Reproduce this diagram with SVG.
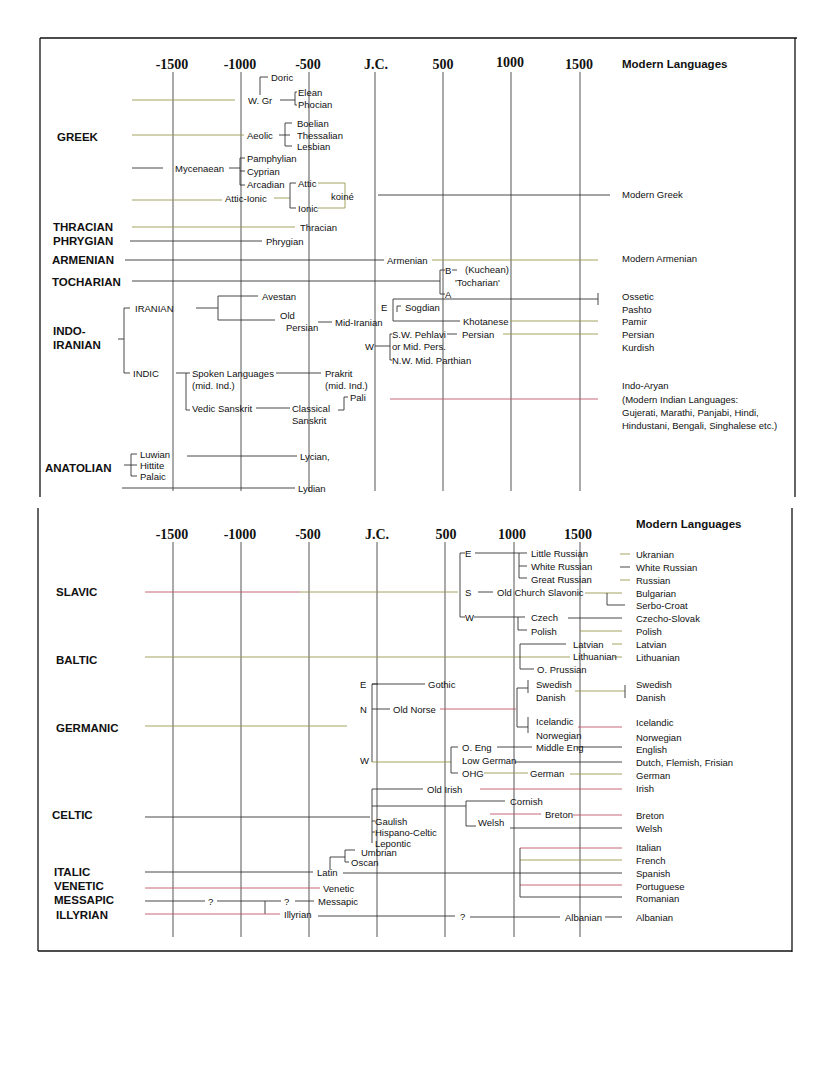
<svg xmlns="http://www.w3.org/2000/svg" width="835" height="1075" viewBox="0 0 835 1075">
<style>
text{font-family:"Liberation Sans",Arial,sans-serif;font-size:9.5px;fill:#111;dominant-baseline:central}
.g{font-weight:bold;font-size:11.5px}
.ax{font-family:"Liberation Serif","Times New Roman",serif;font-weight:bold;font-size:14px;text-anchor:middle}
.ml{font-weight:bold;font-size:11.5px}
.grid line{stroke:#555;stroke-width:1}
.frame line{stroke:#111;stroke-width:1.3}
.c path{fill:none;stroke:#333;stroke-width:0.9}
.c .o{stroke:#9a9a50}
.c .p{stroke:#c05868}
</style>
<rect width="835" height="1075" fill="#fff"/>
<g class="frame">
<line x1="40" y1="38" x2="797" y2="38"/><line x1="40" y1="38" x2="40" y2="497"/><line x1="795" y1="38" x2="795" y2="497"/>
<line x1="38" y1="508" x2="38" y2="951"/><line x1="792" y1="508" x2="792" y2="952"/><line x1="38" y1="951" x2="792" y2="951"/>
</g>
<g class="grid" id="axis-top">
<line x1="173" y1="72" x2="173" y2="491"/><line x1="241" y1="72" x2="241" y2="491"/><line x1="309" y1="72" x2="309" y2="491"/><line x1="375" y1="72" x2="375" y2="491"/><line x1="443" y1="72" x2="443" y2="491"/><line x1="511" y1="72" x2="511" y2="491"/><line x1="580" y1="72" x2="580" y2="491"/>
<text class="ax" x="172" y="64">-1500</text><text class="ax" x="240" y="64">-1000</text><text class="ax" x="308" y="64">-500</text><text class="ax" x="376" y="64">J.C.</text><text class="ax" x="443" y="64">500</text><text class="ax" x="510" y="62">1000</text><text class="ax" x="579" y="64">1500</text>
<text class="ml" x="622" y="64">Modern Languages</text>
</g>
<g class="grid" id="axis-bottom">
<line x1="173" y1="542" x2="173" y2="937"/><line x1="241" y1="542" x2="241" y2="937"/><line x1="309" y1="542" x2="309" y2="937"/><line x1="377" y1="542" x2="377" y2="937"/><line x1="445" y1="542" x2="445" y2="937"/><line x1="514" y1="542" x2="514" y2="937"/><line x1="580" y1="542" x2="580" y2="937"/>
<text class="ax" x="172" y="534">-1500</text><text class="ax" x="240" y="534">-1000</text><text class="ax" x="308" y="534">-500</text><text class="ax" x="377" y="534">J.C.</text><text class="ax" x="446" y="534">500</text><text class="ax" x="512" y="534">1000</text><text class="ax" x="578" y="534">1500</text>
<text class="ml" x="636" y="524">Modern Languages</text>
</g>
<g class="c" id="connectors">
<path class="o" d="M132,100H235"/><path d="M260,95V77H268"/><path d="M280,100H295M297,92H295V105H297"/>
<path class="o" d="M132,135H244"/><path d="M279,135H290M292,123H285V146H292"/>
<path d="M132,168H163M229,168H240M245,158H240V185H245M240,171H245"/>
<path class="o" d="M132,200H222"/><path class="o" d="M274,198H290"/><path d="M296,183H290V208H296"/>
<path class="o" d="M318,183H345V208H318"/><path d="M378,195H610"/>
<path class="o" d="M132,227H295"/><path d="M130,241H262"/>
<path d="M125,260H384"/><path class="o" d="M432,260H598"/>
<path d="M132,281H440M445,270H440V294H445M452,270H457"/>
<path d="M393,321V299H598M598,293V305M397,312V306H401"/>
<path d="M393,321H460"/><path class="o" d="M510,321H598"/>
<path d="M318,322H332"/><path d="M375,346H390M392,334H390V360H392"/>
<path d="M447,334H457"/><path class="o" d="M503,334H598"/>
<path d="M130,308H124V373H130M118,339H124"/>
<path d="M196,308H218M258,296H218V320H275"/>
<path d="M176,373H186M190,373H186V410H190"/><path d="M276,373H321"/><path d="M256,408H290"/>
<path d="M348,397H344V410H338"/><path class="p" d="M390,399H598"/>
<path d="M137,454H131V476H137M124,465H137"/><path d="M187,456H297"/><path d="M122,488H295"/>
<path class="p" d="M145,592H300"/><path class="o" d="M300,592H458"/><path d="M465,553H460V617H465"/>
<path d="M475,553H527M519,553V578H527M519,566H527"/><path class="o" d="M620,554H630M620,580H630"/><path d="M620,567H630"/>
<path d="M478,592H493"/><path class="o" d="M585,593H622"/><path d="M607,593V605H625"/>
<path d="M474,617H525M518,617V630H527"/><path d="M568,618H622"/><path class="o" d="M580,631H622"/>
<path class="o" d="M145,657H570"/><path d="M520,644V669H534M520,644H566"/><path class="o" d="M612,644H622M614,657H622"/>
<path class="o" d="M145,726H347"/>
<path d="M378,684H372V762M372,709H390"/><path d="M372,684H425"/><path class="o" d="M372,762H451"/>
<path d="M458,747H451V773H458"/>
<path class="p" d="M440,709H516"/><path d="M528,688H517V727H528M528,680V693M528,717V733"/>
<path class="o" d="M575,691H625"/><path d="M625,685V698"/><path class="p" d="M578,727H622"/>
<path d="M497,747H532M577,747H622"/><path d="M515,762H622"/><path class="o" d="M484,773H528"/><path class="o" d="M570,774H622"/>
<path d="M372,789H423"/><path class="p" d="M480,789H622"/>
<path d="M145,817H370M372,789V843M372,821H375M372,832H375"/>
<path d="M372,806H466M466,801V826H476M466,801H505"/><path class="p" d="M490,814H541M573,815H622"/><path d="M510,828H622"/>
<path d="M330,870V857H345M345,850V862M345,850H355M345,862H349"/>
<path d="M145,872H313"/><path d="M343,873H622"/><path class="p" d="M520,848H622"/><path class="o" d="M520,860H622"/><path class="p" d="M520,885H622"/><path d="M520,848V897H622"/>
<path class="p" d="M145,888H320"/>
<path d="M145,901H205M217,901H281M295,901H314M265,901V914"/>
<path class="p" d="M145,914H280"/><path d="M318,916H455M470,917H560M605,917H622"/>
</g>
<g id="greek"><text class="g" x="57" y="137">GREEK</text>
<text x="271" y="77">Doric</text><text x="248" y="100">W. Gr</text><text x="298" y="92">Elean</text><text x="298" y="104">Phocian</text>
<text x="247" y="135">Aeolic</text><text x="297" y="123">Boelian</text><text x="297" y="135">Thessalian</text><text x="297" y="146">Lesbian</text>
<text x="175" y="168">Mycenaean</text><text x="247" y="158">Pamphylian</text><text x="247" y="171">Cyprian</text><text x="247" y="184">Arcadian</text>
<text x="225" y="198">Attic-Ionic</text><text x="298" y="183">Attic</text><text x="298" y="208">Ionic</text><text x="331" y="196">koiné</text>
<text x="622" y="194">Modern Greek</text></g>
<g id="thracian"><text class="g" x="53" y="227">THRACIAN</text><text x="300" y="227">Thracian</text></g>
<g id="phrygian"><text class="g" x="53" y="241">PHRYGIAN</text><text x="266" y="241">Phrygian</text></g>
<g id="armenian"><text class="g" x="52" y="260">ARMENIAN</text><text x="387" y="260">Armenian</text><text x="622" y="258">Modern Armenian</text></g>
<g id="tocharian"><text class="g" x="52" y="282">TOCHARIAN</text><text x="445" y="270">B</text><text x="465" y="269">(Kuchean)</text><text x="455" y="282">'Tocharian'</text><text x="445" y="294">A</text></g>
<g id="indo-iranian"><text class="g" x="53" y="331">INDO-</text><text class="g" x="53" y="345">IRANIAN</text>
<text x="135" y="308">IRANIAN</text><text x="262" y="296">Avestan</text><text x="280" y="315">Old</text><text x="286" y="327">Persian</text>
<text x="335" y="322">Mid-Iranian</text><text x="381" y="307">E</text><text x="405" y="307">Sogdian</text><text x="463" y="321">Khotanese</text>
<text x="365" y="346">W</text><text x="392" y="334">S.W. Pehlavi</text><text x="392" y="346">or Mid. Pers.</text><text x="392" y="360">N.W. Mid. Parthian</text><text x="462" y="334">Persian</text>
<text x="622" y="296">Ossetic</text><text x="622" y="309">Pashto</text><text x="622" y="321">Pamir</text><text x="622" y="334">Persian</text><text x="622" y="347">Kurdish</text>
<text x="133" y="373">INDIC</text><text x="192" y="373">Spoken Languages</text><text x="192" y="385">(mid. Ind.)</text><text x="192" y="408">Vedic Sanskrit</text>
<text x="325" y="373">Prakrit</text><text x="325" y="385">(mid. Ind.)</text><text x="292" y="408">Classical</text><text x="292" y="420">Sanskrit</text><text x="350" y="397">Pali</text>
<text x="622" y="385">Indo-Aryan</text><text x="622" y="399">(Modern Indian Languages:</text><text x="622" y="412">Gujerati, Marathi, Panjabi, Hindi,</text><text x="622" y="425">Hindustani, Bengali, Singhalese etc.)</text></g>
<g id="anatolian"><text class="g" x="45" y="468">ANATOLIAN</text><text x="140" y="454">Luwian</text><text x="140" y="465">Hittite</text><text x="140" y="476">Palaic</text><text x="300" y="456">Lycian,</text><text x="298" y="488">Lydian</text></g>
<g id="slavic"><text class="g" x="56" y="592">SLAVIC</text><text x="465" y="553">E</text><text x="465" y="592">S</text><text x="465" y="617">W</text>
<text x="531" y="553">Little Russian</text><text x="531" y="566">White Russian</text><text x="531" y="579">Great Russian</text>
<text x="636" y="554">Ukranian</text><text x="636" y="567">White Russian</text><text x="636" y="580">Russian</text>
<text x="497" y="592">Old Church Slavonic</text><text x="636" y="593">Bulgarian</text><text x="636" y="605">Serbo-Croat</text>
<text x="531" y="617">Czech</text><text x="531" y="631">Polish</text><text x="636" y="618">Czecho-Slovak</text><text x="636" y="631">Polish</text></g>
<g id="baltic"><text class="g" x="56" y="660">BALTIC</text><text x="573" y="644">Latvian</text><text x="573" y="656">Lithuanian</text><text x="537" y="669">O. Prussian</text><text x="636" y="644">Latvian</text><text x="636" y="657">Lithuanian</text></g>
<g id="germanic"><text class="g" x="56" y="728">GERMANIC</text><text x="360" y="684">E</text><text x="360" y="709">N</text><text x="360" y="760">W</text>
<text x="428" y="684">Gothic</text><text x="393" y="709">Old Norse</text>
<text x="536" y="684">Swedish</text><text x="536" y="697">Danish</text><text x="536" y="721">Icelandic</text><text x="536" y="735">Norwegian</text>
<text x="636" y="684">Swedish</text><text x="636" y="697">Danish</text><text x="636" y="722">Icelandic</text><text x="636" y="737">Norwegian</text>
<text x="462" y="747">O. Eng</text><text x="462" y="760">Low German</text><text x="462" y="773">OHG</text><text x="536" y="747">Middle Eng</text><text x="530" y="773">German</text>
<text x="636" y="749">English</text><text x="636" y="762">Dutch, Flemish, Frisian</text><text x="636" y="775">German</text></g>
<g id="celtic"><text class="g" x="52" y="815">CELTIC</text><text x="427" y="789">Old Irish</text><text x="636" y="788">Irish</text>
<text x="510" y="801">Cornish</text><text x="545" y="814">Breton</text><text x="478" y="822">Welsh</text><text x="636" y="815">Breton</text><text x="636" y="828">Welsh</text>
<text x="375" y="821">Gaulish</text><text x="375" y="832">Hispano-Celtic</text><text x="375" y="843">Lepontic</text></g>
<g id="italic"><text class="g" x="54" y="872">ITALIC</text><text x="361" y="852">Umbrian</text><text x="351" y="862">Oscan</text><text x="317" y="872">Latin</text>
<text x="636" y="847">Italian</text><text x="636" y="860">French</text><text x="636" y="873">Spanish</text><text x="636" y="886">Portuguese</text><text x="636" y="898">Romanian</text></g>
<g id="venetic"><text class="g" x="54" y="886">VENETIC</text><text x="323" y="888">Venetic</text></g>
<g id="messapic"><text class="g" x="54" y="900">MESSAPIC</text><text x="208" y="901">?</text><text x="284" y="901">?</text><text x="318" y="901">Messapic</text></g>
<g id="illyrian"><text class="g" x="56" y="915">ILLYRIAN</text><text x="284" y="914">Illyrian</text><text x="460" y="916">?</text><text x="565" y="917">Albanian</text><text x="636" y="917">Albanian</text></g>
</svg>
